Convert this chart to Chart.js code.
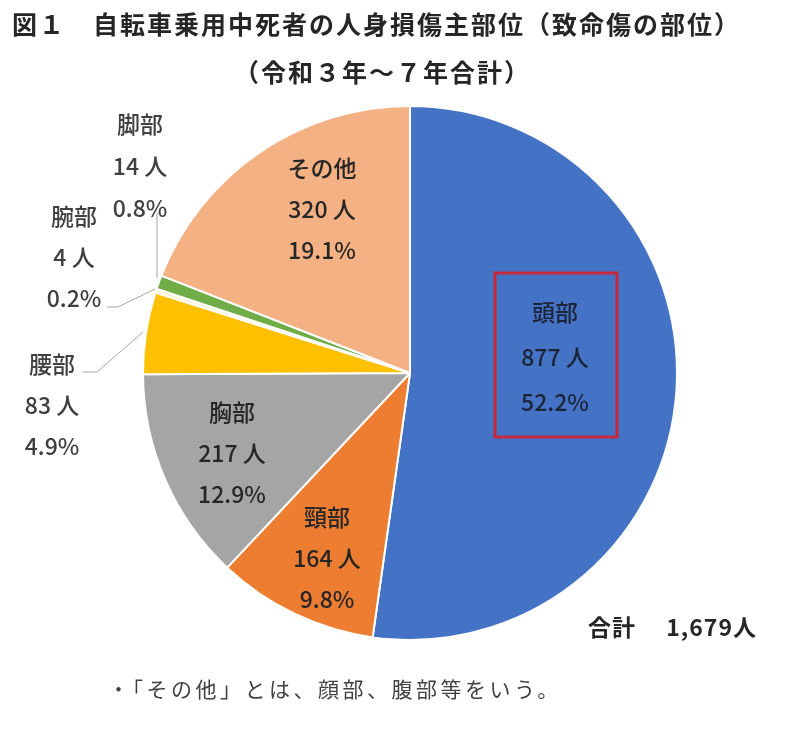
<!DOCTYPE html>
<html lang="ja">
<head>
<meta charset="utf-8">
<script src="https://cdn.jsdelivr.net/npm/chart.js@4"></script>
<style>
  html, body { margin: 0; padding: 0; background: #fff; }
  #wrap { position: relative; width: 786px; height: 737px; overflow: hidden; }
  #chart { position: absolute; left: 0; top: 0; }
  .txt { position: absolute; font-family: "Noto Sans CJK JP", sans-serif; white-space: nowrap; color: #262626; }
  #title { left: 12px; top: 5px; font-size: 25px; font-weight: bold; letter-spacing: 2px; }
  #subtitle { left: 234px; top: 53px; font-size: 25px; font-weight: bold; letter-spacing: 2px; }
  #total { left: 588px; top: 609px; font-size: 23px; font-weight: bold; letter-spacing: 1px; }
  #note { left: 108px; top: 673px; font-size: 21px; color: #404040; letter-spacing: 3.5px; }
</style>
</head>
<body>
<div id="wrap">
  <canvas id="chart" width="786" height="737"></canvas>
  <div class="txt" id="title">図１　自転車乗用中死者の人身損傷主部位（致命傷の部位）</div>
  <div class="txt" id="subtitle">（令和３年～７年合計）</div>
  <div class="txt" id="total">合計　 1,679人</div>
  <div class="txt" id="note">・「その他」とは、顔部、腹部等をいう。</div>
</div>
<script>
// 部位別の死者数（令和3年～7年合計）, clockwise from 12 o'clock
const parts = ['頭部', '頸部', '胸部', '腰部', '腕部', '脚部', 'その他'];
const deaths = [877, 164, 217, 83, 4, 14, 320];
const shares = ['52.2%', '9.8%', '12.9%', '4.9%', '0.2%', '0.8%', '19.1%'];
const colours = ['#4472C4', '#ED7D31', '#A5A5A5', '#FFC000', '#FFF2CC', '#70AD47', '#F4B183'];

// label placement relative to the pie centre (px); leader = polyline to the slice
const labelLayout = [
  { dx: 145, dy: -16, gap: 45, colour: '#1c2438', box: { x: 85, y: -100, w: 122, h: 164 } },
  { dx: -83, dy: 185, gap: 41, colour: '#262626' },
  { dx: -178, dy: 80, gap: 41, colour: '#262626' },
  { dx: -358, dy: 32, gap: 41, colour: '#404040', leader: [[-327, -1], [-313, -1], [-267, -41]] },
  { dx: -336, dy: -116, gap: 41, colour: '#404040', leader: [[-303, -66], [-292, -66], [-255, -84]] },
  { dx: -270, dy: -207, gap: 42, colour: '#404040', leader: [[-253, -160], [-253, -95]] },
  { dx: -88, dy: -164, gap: 41, colour: '#262626' },
];

const sliceLabels = {
  id: 'sliceLabels',
  afterDatasetsDraw(chart) {
    const { ctx } = chart;
    const meta = chart.getDatasetMeta(0);
    const cx = meta.data[0].x;
    const cy = meta.data[0].y;
    ctx.save();
    ctx.textAlign = 'center';
    ctx.textBaseline = 'middle';
    ctx.font = '500 23px "Noto Sans CJK JP", sans-serif';
    meta.data.forEach((arc, i) => {
      const L = labelLayout[i];
      if (L.leader) {
        ctx.strokeStyle = '#A6A6A6';
        ctx.lineWidth = 1;
        ctx.beginPath();
        L.leader.forEach(([px, py], k) => {
          if (k === 0) ctx.moveTo(cx + px, cy + py);
          else ctx.lineTo(cx + px, cy + py);
        });
        ctx.stroke();
      }
      if (L.box) {
        ctx.strokeStyle = '#C8283C';
        ctx.lineWidth = 3;
        ctx.strokeRect(cx + L.box.x, cy + L.box.y, L.box.w, L.box.h);
      }
      const lines = [parts[i], `${deaths[i]} 人`, shares[i]];
      ctx.fillStyle = L.colour;
      lines.forEach((t, k) => {
        ctx.fillText(t, cx + L.dx, cy + L.dy + (k - 1) * L.gap);
      });
    });
    ctx.restore();
  },
};

new Chart(document.getElementById('chart'), {
  type: 'pie',
  data: {
    labels: parts,
    datasets: [{
      data: deaths,
      backgroundColor: colours,
      borderColor: '#ffffff',
      borderWidth: 2,
    }],
  },
  options: {
    responsive: false,
    animation: false,
    layout: { padding: { left: 142, right: 108, top: 105, bottom: 96 } },
    plugins: {
      legend: { display: false },
      tooltip: { enabled: false },
    },
  },
  plugins: [sliceLabels],
});
</script>
</body>
</html>
